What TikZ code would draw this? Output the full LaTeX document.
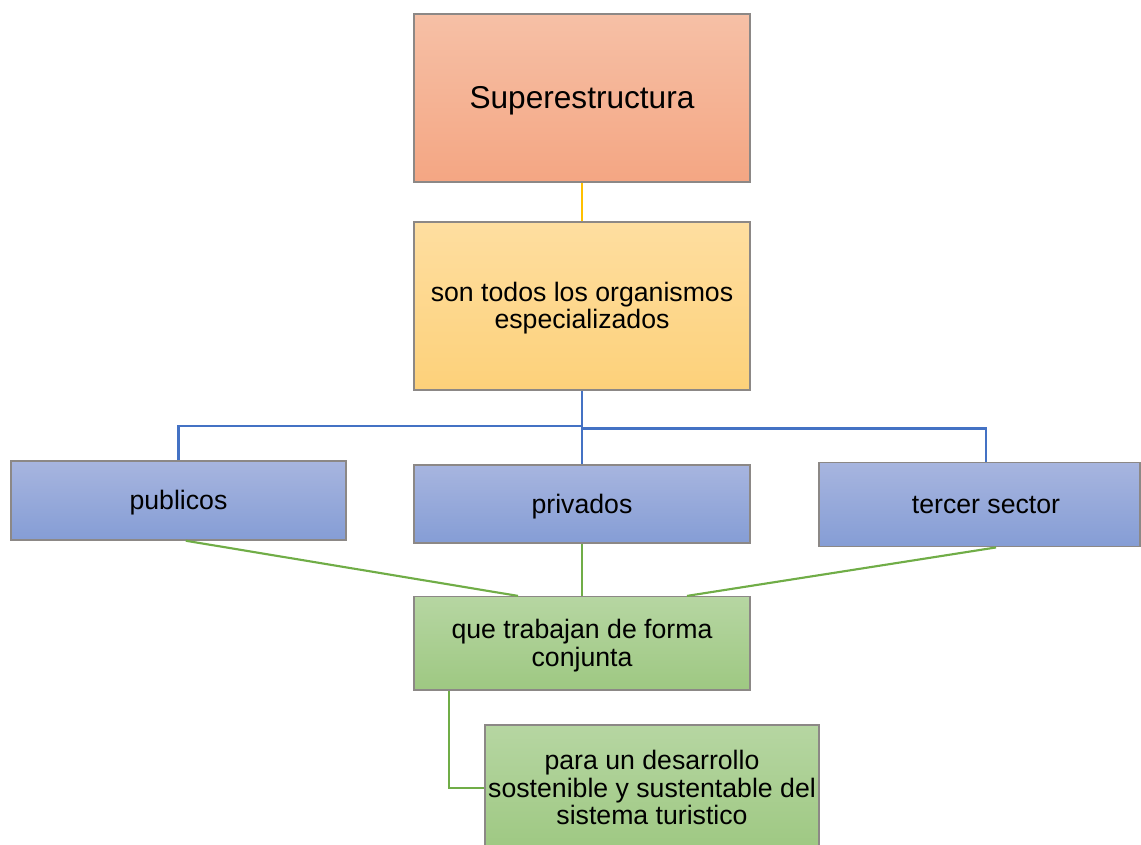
\documentclass[tikz,border=0pt]{standalone}
\usepackage{fontspec}
\setmainfont{Liberation Sans}
\usetikzlibrary{calc}
\definecolor{orTop}{RGB}{246,192,166}
\definecolor{orBot}{RGB}{244,166,131}
\definecolor{yeTop}{RGB}{254,222,160}
\definecolor{yeBot}{RGB}{253,209,122}
\definecolor{blTop}{RGB}{167,181,223}
\definecolor{blBot}{RGB}{133,157,213}
\definecolor{grTop}{RGB}{182,214,162}
\definecolor{grBot}{RGB}{158,200,130}
\definecolor{boxBorder}{RGB}{140,136,134}
\definecolor{lineBlue}{RGB}{68,114,196}
\definecolor{lineGreen}{RGB}{112,173,71}
\definecolor{lineOrange}{RGB}{255,192,0}
\tikzset{
  box/.style={draw=boxBorder, line width=1.1pt, inner sep=2pt, align=center,
    font=\fontsize{20}{20.5}\selectfont, text=black, text height=18.1pt, text depth=4.24pt},
  twolines/.style={text height=38.6pt},
  threelines/.style={text height=59.1pt},
  orbox/.style={box, top color=orTop, bottom color=orBot},
  yebox/.style={box, top color=yeTop, bottom color=yeBot},
  blbox/.style={box, top color=blTop, bottom color=blBot},
  grbox/.style={box, top color=grTop, bottom color=grBot},
  bline/.style={draw=lineBlue, line width=1.6pt},
  gline/.style={draw=lineGreen, line width=1.6pt},
  oline/.style={draw=lineOrange, line width=1.4pt},
}
\begin{document}
\begin{tikzpicture}[x=0.75pt, y=-0.75pt]
\useasboundingbox (0,0) rectangle (1141,845);
\node[orbox, minimum width=252pt, minimum height=126pt, font=\fontsize{23.7}{26}\selectfont, text height=21.45pt, text depth=5.02pt] (top) at (582,98) {Superestructura};
\node[yebox, twolines, minimum width=252pt, minimum height=126pt] (yel) at (582,306) {son todos los organismos\\especializados};
\node[blbox, minimum width=251.25pt, minimum height=59.25pt] (pub) at (178.5,500.5) {publicos};
\node[blbox, minimum width=252pt, minimum height=58.5pt] (priv) at (582,504) {privados};
\node[blbox, minimum width=240.75pt, minimum height=63pt] (ter) at (979.5,504.7) {\hspace*{9.8pt}tercer sector};
\node[grbox, twolines, minimum width=252pt, minimum height=70pt] (conj) at (582,643.3) {que trabajan de forma\\conjunta};
\node[grbox, threelines, minimum width=250.5pt, minimum height=94.5pt] (fin) at (652,788) {para un desarrollo\\sostenible y sustentable del\\sistema turistico};

\draw[oline] (top.south) -- (yel.north);
\draw[bline] (yel.south) -- (priv.north);
\draw[bline] (pub.north) |- ([yshift=-26.25pt]yel.south);
\draw[bline] ([xshift=4.9pt]ter.north) |- ([yshift=-28.3pt]yel.south);
\draw[gline] ([xshift=5.5pt]pub.south) -- ([xshift=-48pt]conj.north);
\draw[gline] (priv.south) -- (conj.north);
\draw[gline] ([xshift=12.4pt]ter.south) -- ([xshift=78.75pt]conj.north);
\draw[gline] ([xshift=-99.75pt]conj.south) |- (fin.west);
\end{tikzpicture}
\end{document}
